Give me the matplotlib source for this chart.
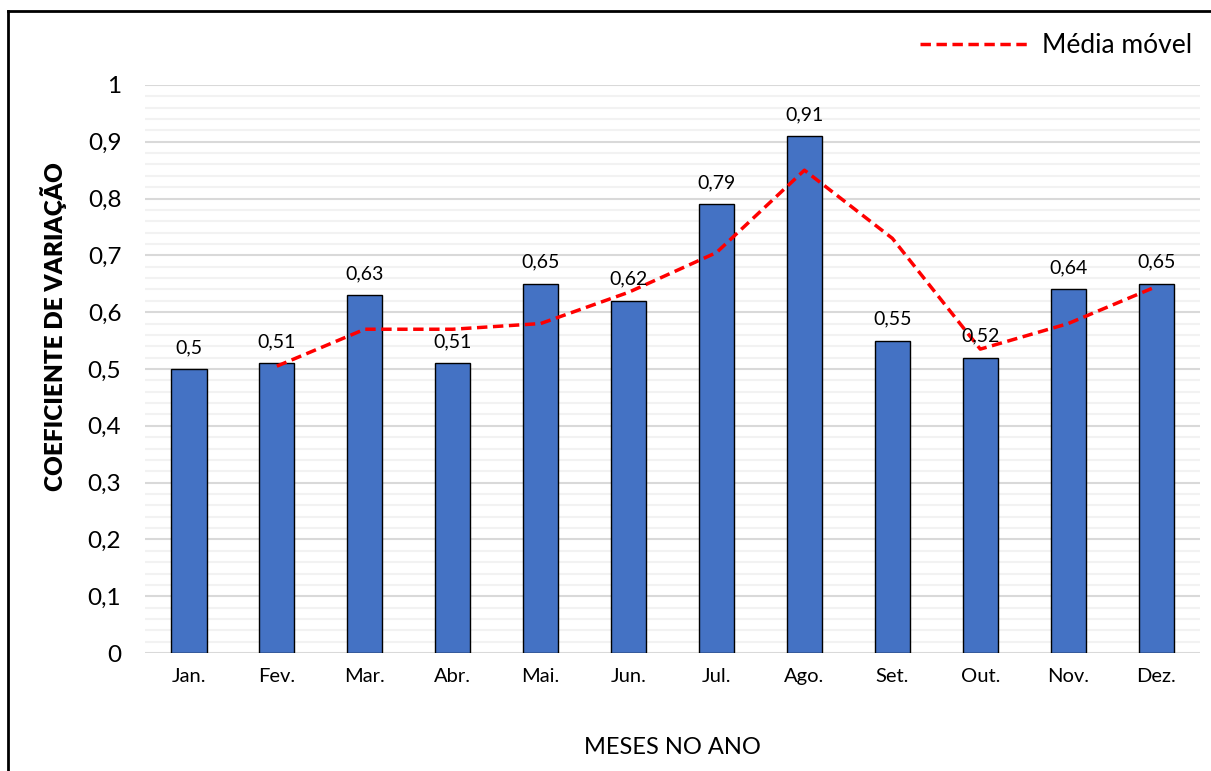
import matplotlib.pyplot as plt
from matplotlib.ticker import MultipleLocator, FuncFormatter
import numpy as np

# dados
meses = ['Jan.', 'Fev.', 'Mar.', 'Abr.', 'Mai.', 'Jun.', 'Jul.', 'Ago.', 'Set.', 'Out.', 'Nov.', 'Dez.']
cv = [0.50, 0.51, 0.63, 0.51, 0.65, 0.62, 0.79, 0.91, 0.55, 0.52, 0.64, 0.65]
media_movel = [None, 0.505, 0.57, 0.57, 0.58, 0.635, 0.705, 0.85, 0.73, 0.535, 0.58, 0.645]

plt.rcParams['font.family'] = ['Lato', 'DejaVu Sans']

fig = plt.figure(figsize=(12.11, 7.71), dpi=100)
ax = fig.add_axes([0.1197, 0.153, 0.8713, 0.7368])

x = np.arange(len(meses))
ax.bar(x, cv, width=0.4, color='#4472C4', edgecolor='black', linewidth=1, zorder=3)

mm_x = [i for i, v in enumerate(media_movel) if v is not None]
mm_y = [v for v in media_movel if v is not None]
ax.plot(mm_x, mm_y, color='#FF0000', linestyle=(0, (3, 1.6)), linewidth=2.5, zorder=4, label='Média móvel')

# rotulos das barras
for i, v in enumerate(cv):
    ax.text(i, v + 0.023, f'{v:g}'.replace('.', ','), ha='center', va='bottom', fontsize=14, zorder=5)

ax.set_xlim(-0.5, len(meses) - 0.5)
ax.set_ylim(0, 1)
ax.set_xticks(x)
ax.set_xticklabels(meses, fontsize=14.5)
ax.yaxis.set_major_locator(MultipleLocator(0.1))
ax.yaxis.set_minor_locator(MultipleLocator(0.02))
ax.yaxis.set_major_formatter(FuncFormatter(lambda v, p: f'{v:.1f}'.replace('.', ',') if 0 < v < 1 else f'{v:.0f}'))
ax.tick_params(axis='y', labelsize=17.5, length=0, pad=17, which='both')
ax.tick_params(axis='x', length=0, pad=11)

ax.grid(axis='y', which='major', color='#d9d9d9', linewidth=1.5, zorder=0)
ax.grid(axis='y', which='minor', color='#f2f2f2', linewidth=1.5, zorder=0)
for s in ax.spines.values():
    s.set_visible(False)

ax.set_xlabel('MESES NO ANO', fontsize=17, labelpad=37)
ax.set_ylabel('COEFICIENTE DE VARIAÇÃO', fontsize=17.5, fontweight='heavy')
ax.yaxis.set_label_coords(-0.074, 0.575)

ax.legend(loc='upper right', bbox_to_anchor=(1.002, 1.11), frameon=False, fontsize=19,
          handlelength=4.1, handletextpad=0.5, borderaxespad=0)

# moldura
fig.add_artist(plt.Line2D([0.0066, 0.0066], [0, 0.9857], color='black', linewidth=2, transform=fig.transFigure))
fig.add_artist(plt.Line2D([0.0066, 1.0], [0.9857, 0.9857], color='black', linewidth=2, transform=fig.transFigure))

fig.savefig('out.png', dpi=100)
